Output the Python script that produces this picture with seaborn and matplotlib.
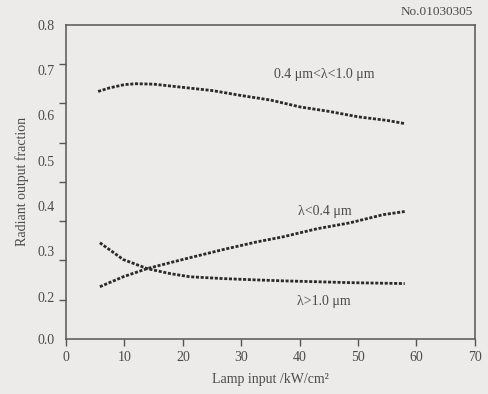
import numpy as np
import pandas as pd
import matplotlib
matplotlib.use("Agg")
import matplotlib.pyplot as plt
import seaborn as sns

BG    = '#ecebe9'
INK   = '#2a2a2a'
TEXT  = '#4a4a4a'

# lamp input (kW/cm2) and radiant output fraction
vis_x = [5.5, 7.5, 10, 12, 15, 20, 25, 30, 35, 40, 45, 50, 55, 58]
vis_y = [0.653, 0.661, 0.668, 0.670, 0.669, 0.662, 0.655, 0.644, 0.634,
         0.619, 0.609, 0.597, 0.589, 0.582]

uv_x = [5.8, 9.8, 13.9, 17.8, 21.2, 26.9, 32.7, 37.1, 43, 48.6, 54.3, 58]
uv_y = [0.222, 0.244, 0.262, 0.275, 0.286, 0.304, 0.321, 0.332, 0.350,
        0.363, 0.381, 0.388]

ir_x = [5.8, 9.8, 13.9, 17.8, 21.2, 26.9, 32.7, 37.1, 43, 48.6, 58]
ir_y = [0.319, 0.282, 0.262, 0.251, 0.244, 0.240, 0.237, 0.235, 0.233,
        0.231, 0.229]

x_ticks = [0, 10, 20, 30, 40, 50, 60, 70]
y_label_pos = [0.107, 0.2, 0.3, 0.4, 0.5, 0.6, 0.7, 0.8]
y_label_txt = ['0.0', '0.2', '0.3', '0.4', '0.5', '0.6', '0.7', '0.8']

sns.set_theme(style="ticks")
plt.rcParams['font.family'] = ['Liberation Serif', 'DejaVu Serif']

fig = plt.figure(figsize=(4.89, 3.94), dpi=100, facecolor=BG)
ax = fig.add_axes([0.135, 0.140, 0.836, 0.797])
ax.set_facecolor(BG)

curves = [(vis_x, vis_y), (uv_x, uv_y), (ir_x, ir_y)]
for cx, cy in curves:
    d = pd.DataFrame({'x': cx, 'y': cy})
    sns.lineplot(data=d, x='x', y='y', ax=ax, color=INK, lw=2.0,
                 linestyle=(0, (1.1, 0.6)), estimator=None, sort=False)

ax.set_xlim(0, 70)
ax.set_ylim(y_label_pos[0], 0.8)
ax.set_xticks(x_ticks)
ax.set_xticklabels([str(v) for v in x_ticks])

# tick marks and labels do not line up on the original scan
ax.set_yticks(y_label_pos)
ax.set_yticklabels(y_label_txt)
ax.set_yticks(np.linspace(y_label_pos[0], 0.8, 9), minor=True)
ax.tick_params(axis='y', which='major', length=0, pad=8, labelsize=10, colors=TEXT)
ax.tick_params(axis='y', which='minor', length=5, width=1, direction='out', color='#555555')
ax.tick_params(axis='x', which='major', length=5, width=1, direction='out',
               labelsize=10, colors=TEXT, color='#555555', pad=4)

for s in ax.spines.values():
    s.set_visible(True)
    s.set_color('#555555')
    s.set_linewidth(1.1)

ax.set_xlabel("Lamp input /kW/cm\u00b2", fontsize=10, color=TEXT, labelpad=6)
ax.set_ylabel("Radiant output fraction", fontsize=10, color=TEXT, labelpad=6)

ax.text(44.2, 0.690, "0.4 \u03bcm<\u03bb<1.0 \u03bcm", fontsize=10, color=TEXT,
        ha='center', va='center')
ax.text(44.3, 0.387, "\u03bb<0.4 \u03bcm", fontsize=10, color=TEXT,
        ha='center', va='center')
ax.text(44.2, 0.189, "\u03bb>1.0 \u03bcm", fontsize=10, color=TEXT,
        ha='center', va='center')

fig.text(0.967, 0.97, "No.01030305", fontsize=9.5, color=TEXT, ha='right', va='center')

fig.savefig("out.png", dpi=100, facecolor=BG)
